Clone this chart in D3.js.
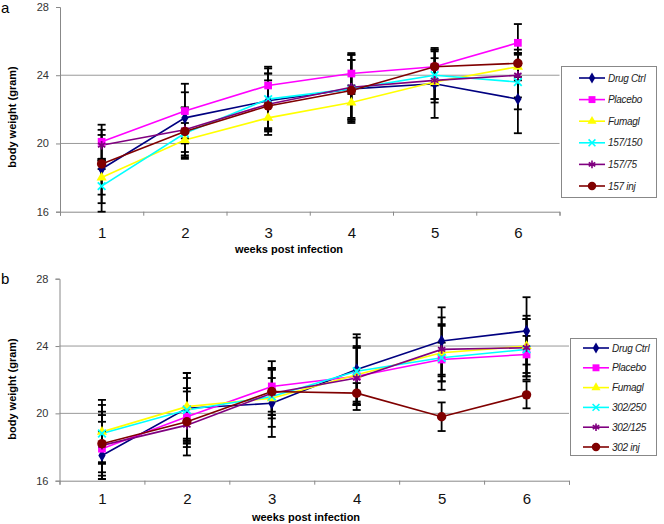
<!DOCTYPE html>
<html>
<head>
<meta charset="utf-8">
<script src="https://cdn.jsdelivr.net/npm/d3@7"></script>
<style>
  body { margin: 0; background: #fff; }
  svg { display: block; font-family: "Liberation Sans", Arial, sans-serif; }
  .legendText { font-family: "Liberation Sans Narrow", "Liberation Sans", Arial, sans-serif; font-style: italic; font-size: 10px; letter-spacing: -0.3px; }
</style>
</head>
<body>
<script>
// categories and tick labels
var weeks = ["1", "2", "3", "4", "5", "6"];
var yTicks = [16, 20, 24, 28];
var gridVals = [20, 24];

// panel a
var namesA = ["Drug Ctrl", "Placebo", "Fumagl", "157/150", "157/75", "157 inj"];
var meansA = [
  [18.5, 21.5, 22.5, 23.2, 23.5, 22.6],
  [20.1, 21.9, 23.4, 24.1, 24.5, 25.9],
  [18.0, 20.2, 21.5, 22.4, 23.6, 24.5],
  [17.5, 20.6, 22.6, 23.2, 24.0, 23.6],
  [19.9, 20.8, 22.3, 23.3, 23.7, 24.0],
  [18.8, 20.7, 22.2, 23.1, 24.5, 24.7]
];
var errA = [
  [2.0, 1.5, 1.6, 1.7, 2.0, 2.0],
  [1.0, 1.6, 1.1, 1.2, 1.0, 1.1],
  [1.0, 1.0, 0.7, 1.0, 1.0, 0.8],
  [1.5, 1.5, 1.8, 2.0, 1.4, 1.6],
  [0.9, 1.3, 1.8, 1.9, 1.3, 1.3],
  [0.3, 1.4, 1.5, 1.8, 1.1, 0.8]
];

// panel b
var namesB = ["Drug Ctrl", "Placebo", "Fumagl", "302/250", "302/125", "302 inj"];
var meansB = [
  [17.5, 20.3, 20.6, 22.6, 24.3, 24.9],
  [17.9, 19.8, 21.6, 22.2, 23.2, 23.5],
  [18.9, 20.4, 20.9, 22.3, 23.6, 24.0],
  [18.8, 20.2, 21.0, 22.5, 23.3, 23.8],
  [18.1, 19.3, 21.2, 22.1, 23.8, 23.9],
  [18.2, 19.5, 21.3, 21.2, 19.8, 21.1]
];
var errB = [
  [1.4, 1.8, 2.0, 2.1, 2.0, 2.0],
  [1.6, 1.5, 1.5, 1.7, 1.0, 1.1],
  [1.9, 2.0, 1.7, 1.6, 1.7, 1.8],
  [1.7, 2.2, 1.1, 2.0, 1.9, 1.8],
  [2.0, 1.1, 1.5, 1.9, 1.9, 1.7],
  [1.7, 2.0, 1.4, 0.6, 0.85, 0.8]
];

// series styling (same for both panels)
var colors = ["#000080", "#ff00ff", "#ffff00", "#00ffff", "#800080", "#800000"];
var symbols = [d3.symbolDiamond, d3.symbolSquare, d3.symbolTriangle, d3.symbolTimes, d3.symbolAsterisk, d3.symbolCircle];
var symSize = [45, 60, 45, 40, 50, 70];
var stroked = [false, false, false, true, true, false];

var svg = d3.select("body").append("svg")
  .attr("width", 664)
  .attr("height", 524);

function drawPanel(p) {
  var x = d3.scaleLinear().domain([0.5, 6.5]).range([p.x0, p.x1]);
  var y = d3.scaleLinear().domain([16, 28]).range([p.yBottom, p.yTop]);
  var g = svg.append("g");

  // gridlines
  g.selectAll(".grid")
    .data(gridVals)
    .enter()
    .append("line")
    .attr("x1", p.x0).attr("x2", p.x1)
    .attr("y1", function(d) { return y(d); })
    .attr("y2", function(d) { return y(d); })
    .attr("stroke", "#999")
    .attr("stroke-width", 1);

  // y axis
  var yAxis = g.append("g")
    .attr("transform", "translate(" + p.x0 + ",0)")
    .call(d3.axisLeft(y).tickValues(yTicks).tickSize(4).tickPadding(7).tickFormat(d3.format("d")));
  yAxis.select(".domain").attr("stroke", "#888");
  yAxis.selectAll(".tick line").attr("stroke", "#888");
  yAxis.selectAll("text").attr("font-size", 11).attr("fill", "#333").attr("font-family", null);

  // x axis tick marks at category boundaries
  var xTickAxis = g.append("g")
    .attr("transform", "translate(0," + p.yBottom + ")")
    .call(d3.axisBottom(x).tickValues(d3.range(0.5, 7, 1)).tickSize(4).tickFormat(""));
  xTickAxis.select(".domain").attr("stroke", "#888");
  xTickAxis.selectAll(".tick line").attr("stroke", "#888");

  // x labels
  var xLab = g.append("g")
    .attr("transform", "translate(0," + p.yBottom + ")")
    .call(d3.axisBottom(x).tickValues([1, 2, 3, 4, 5, 6]).tickSize(0).tickPadding(p.xPad)
      .tickFormat(function(d) { return weeks[d - 1]; }));
  xLab.select(".domain").remove();
  xLab.selectAll("text").attr("font-size", 15).attr("fill", "#111").attr("font-family", null);

  // titles
  g.append("text")
    .attr("x", p.xTitleX).attr("y", p.xTitleY)
    .attr("text-anchor", "middle")
    .attr("font-size", 11).attr("font-weight", "bold")
    .text("weeks post infection");

  g.append("text")
    .attr("transform", "translate(16," + p.yTitleY + ") rotate(-90)")
    .attr("text-anchor", "middle")
    .attr("font-size", 11).attr("font-weight", "bold")
    .text("body weight (gram)");

  g.append("text")
    .attr("x", 1).attr("y", p.letterY)
    .attr("font-size", 15)
    .text(p.letter);

  var line = d3.line()
    .x(function(d, i) { return x(i + 1); })
    .y(function(d) { return y(d); });

  // lines
  p.means.forEach(function(m, s) {
    g.append("path")
      .datum(m)
      .attr("d", line)
      .attr("fill", "none")
      .attr("stroke", colors[s])
      .attr("stroke-width", 1.6);
  });

  // error bars
  p.means.forEach(function(m, s) {
    var eb = g.append("g");
    m.forEach(function(v, i) {
      var cx = x(i + 1), e = p.errs[s][i];
      var lo = Math.max(16, v - e);
      eb.append("line")
        .attr("x1", cx).attr("x2", cx)
        .attr("y1", y(v + e)).attr("y2", y(lo))
        .attr("stroke", "#000").attr("stroke-width", 1.8);
      [v + e, v - e].forEach(function(c) {
        if (c < 16) return;
        eb.append("line")
          .attr("x1", cx - 4).attr("x2", cx + 4)
          .attr("y1", y(c)).attr("y2", y(c))
          .attr("stroke", "#000").attr("stroke-width", 1.8);
      });
    });
  });

  // markers
  p.means.forEach(function(m, s) {
    g.selectAll(".mk" + s)
      .data(m)
      .enter()
      .append("path")
      .attr("transform", function(d, i) { return "translate(" + x(i + 1) + "," + y(d) + ")"; })
      .attr("d", d3.symbol().type(symbols[s]).size(symSize[s]))
      .attr("fill", stroked[s] ? "none" : colors[s])
      .attr("stroke", stroked[s] ? colors[s] : "none")
      .attr("stroke-width", 1.8);
  });

  // legend
  var lg = g.append("g");
  lg.append("rect")
    .attr("x", p.lgX + 0.5).attr("y", p.lgY + 0.5)
    .attr("width", p.lgW).attr("height", p.lgH)
    .attr("fill", "#fff")
    .attr("stroke", "#888");
  p.names.forEach(function(n, s) {
    var ly = p.lgFirst + s * p.lgStep;
    lg.append("line")
      .attr("x1", p.lgLine0).attr("x2", p.lgLine0 + 26)
      .attr("y1", ly).attr("y2", ly)
      .attr("stroke", colors[s]).attr("stroke-width", 1.6);
    lg.append("path")
      .attr("transform", "translate(" + (p.lgLine0 + 13) + "," + ly + ")")
      .attr("d", d3.symbol().type(symbols[s]).size(symSize[s] * 0.8))
      .attr("fill", stroked[s] ? "none" : colors[s])
      .attr("stroke", stroked[s] ? colors[s] : "none")
      .attr("stroke-width", 1.6);
    lg.append("text")
      .attr("class", "legendText")
      .attr("x", p.lgLine0 + 29).attr("y", ly + 3.5)
      .attr("fill", "#222")
      .text(n);
  });
}

drawPanel({
  letter: "a", letterY: 13,
  means: meansA, errs: errA, names: namesA,
  x0: 60, x1: 559.5, yTop: 7, yBottom: 211.7, xPad: 16,
  xTitleX: 289, xTitleY: 253, yTitleY: 117,
  lgX: 561, lgY: 66, lgW: 95, lgH: 131, lgFirst: 78, lgStep: 21.6, lgLine0: 579
});

drawPanel({
  letter: "b", letterY: 284,
  means: meansB, errs: errB, names: namesB,
  x0: 59.5, x1: 569, yTop: 278.7, yBottom: 480.7, xPad: 12.5,
  xTitleX: 306, xTitleY: 521, yTitleY: 389,
  lgX: 570, lgY: 338, lgW: 86, lgH: 117, lgFirst: 348, lgStep: 19.8, lgLine0: 583
});
</script>
</body>
</html>
